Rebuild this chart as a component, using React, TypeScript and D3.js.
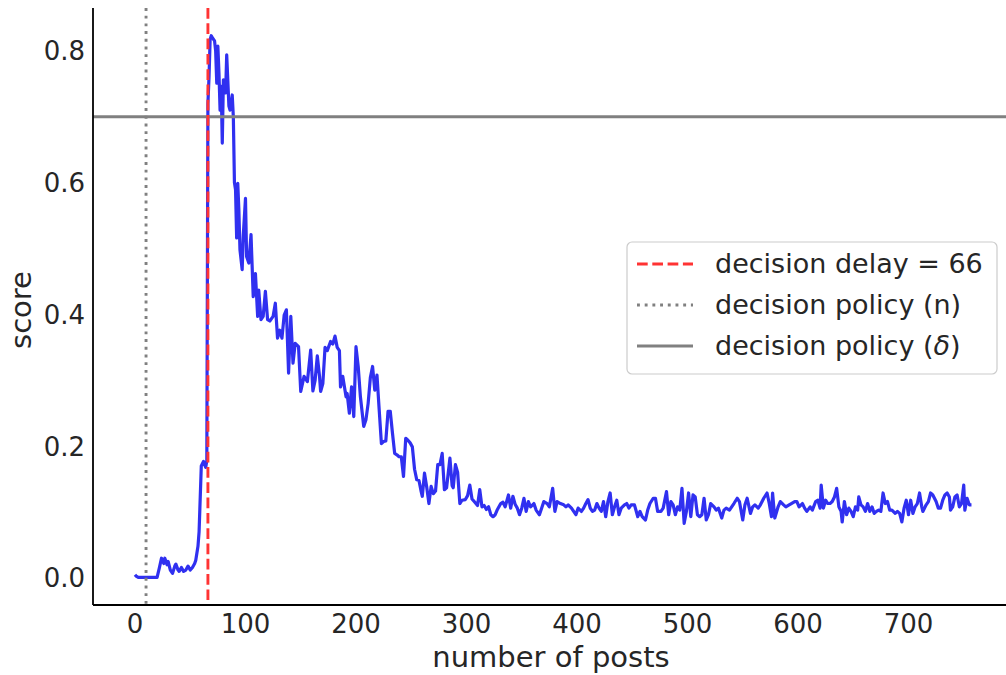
import React, { useEffect } from "react";
import * as d3 from "d3";

// score per number of posts
const posts = [
  0, 1, 3, 20, 22, 24, 26, 27, 29, 30, 32, 34, 36, 37, 39, 40, 42, 44, 46, 48, 50, 52, 54, 55, 57, 58, 60, 62, 63, 64, 65,
  66, 67, 68, 69, 70, 72, 73, 74, 75, 76, 77, 78, 79, 80, 82, 83, 85, 86, 88, 89, 90, 91, 92, 93, 94, 95, 97, 98, 100,
  101, 103, 105, 107, 109, 111, 112, 114, 116, 118, 120, 122, 125, 127, 129, 131, 133, 135, 137, 139, 141, 143, 145, 148,
  150, 153, 156, 159, 161, 163, 165, 167, 168, 170, 172, 174, 177, 179, 181, 183, 185, 186, 188, 191, 192, 194, 196, 198,
  200, 202, 204, 207, 209, 211, 213, 215, 217, 219, 221, 223, 225, 227, 229, 231, 233, 235, 237, 239, 241, 243, 245, 247,
  249, 251, 253, 255, 257, 259, 260, 262, 264, 266, 268, 270, 272, 274, 276, 278, 280, 282, 285, 287, 288, 290, 292, 294,
  296, 299, 301, 303, 305, 307, 310, 312, 314, 316, 318, 320, 322, 324, 326, 328, 331, 333, 335, 338, 340, 342, 344, 346,
  348, 350, 352, 354, 356, 358, 361, 363, 366, 368, 370, 373, 375, 378, 380, 382, 385, 388, 390, 392, 395, 397, 399, 401,
  404, 406, 408, 410, 412, 414, 416, 418, 420, 422, 424, 426, 428, 430, 432, 434, 436, 438, 440, 443, 445, 447, 449, 452,
  455, 457, 459, 462, 464, 466, 469, 471, 473, 476, 478, 481, 483, 485, 487, 489, 491, 493, 495, 497, 499, 501, 503, 505,
  507, 509, 511, 513, 515, 517, 519, 521, 524, 526, 528, 531, 533, 535, 538, 540, 542, 545, 547, 550, 552, 554, 557, 559,
  561, 564, 566, 569, 572, 574, 576, 577, 579, 582, 584, 587, 589, 592, 594, 597, 599, 601, 604, 606, 608, 611, 613, 616,
  618, 620, 621, 623, 625, 627, 629, 631, 633, 635, 637, 639, 640, 642, 644, 646, 648, 650, 652, 654, 655, 657, 659, 661,
  663, 665, 667, 669, 671, 673, 675, 677, 679, 681, 683, 685, 688, 690, 692, 694, 696, 698, 700, 702, 704, 706, 708, 710,
  712, 713, 716, 718, 720, 722, 725, 727, 729, 731, 733, 735, 737, 738, 740, 742, 744, 746, 748, 750, 751, 753, 755, 757,
];
const scores = [
  0.005, 0.003, 0.001, 0.001, 0.015, 0.03, 0.022, 0.03, 0.02, 0.025, 0.012, 0.007, 0.018, 0.021, 0.012, 0.01, 0.016, 0.01,
  0.012, 0.018, 0.012, 0.016, 0.022, 0.027, 0.048, 0.07, 0.17, 0.177, 0.172, 0.168, 0.178,
  0.72, 0.76, 0.817, 0.823, 0.82, 0.815, 0.8, 0.751, 0.807, 0.766, 0.71, 0.746, 0.66, 0.756, 0.736, 0.794, 0.716, 0.71,
  0.733, 0.7, 0.6, 0.589, 0.516, 0.599, 0.559, 0.498, 0.468, 0.52, 0.576,
  0.488, 0.478, 0.521, 0.427, 0.462, 0.397, 0.437, 0.392, 0.397, 0.435, 0.392, 0.39, 0.397, 0.417, 0.364, 0.376, 0.364,
  0.399, 0.407, 0.311, 0.397, 0.326, 0.356, 0.351,
  0.283, 0.306, 0.298, 0.346, 0.284, 0.3, 0.337, 0.306, 0.283, 0.295, 0.35, 0.345, 0.359, 0.355, 0.367, 0.35, 0.345, 0.29,
  0.306, 0.275, 0.28, 0.25, 0.29, 0.245,
  0.351, 0.321, 0.275, 0.23, 0.24, 0.265, 0.304, 0.321, 0.285, 0.308, 0.255, 0.204, 0.207, 0.208, 0.253, 0.253, 0.22,
  0.189, 0.187, 0.184, 0.184, 0.154, 0.212, 0.209,
  0.205, 0.199, 0.165, 0.149, 0.148, 0.131, 0.124, 0.159, 0.138, 0.113, 0.139, 0.128, 0.132, 0.172, 0.172, 0.189, 0.134,
  0.137, 0.182, 0.14, 0.137, 0.172, 0.16, 0.113,
  0.118, 0.119, 0.125, 0.141, 0.12, 0.116, 0.11, 0.134, 0.108, 0.11, 0.104, 0.108, 0.096, 0.093, 0.096, 0.104, 0.113,
  0.115, 0.108, 0.126, 0.106, 0.124, 0.112, 0.106,
  0.096, 0.106, 0.121, 0.101, 0.116, 0.108, 0.113, 0.103, 0.096, 0.106, 0.116, 0.113, 0.108, 0.136, 0.101, 0.116, 0.113,
  0.111, 0.108, 0.111, 0.106, 0.101, 0.096, 0.106,
  0.101, 0.106, 0.113, 0.119, 0.106, 0.101, 0.103, 0.113, 0.106, 0.101, 0.116, 0.093, 0.116, 0.129, 0.096, 0.108, 0.118,
  0.096, 0.106, 0.111, 0.113, 0.106, 0.111, 0.111,
  0.093, 0.101, 0.093, 0.088, 0.103, 0.113, 0.121, 0.121, 0.101, 0.101, 0.106, 0.131, 0.096, 0.116, 0.111, 0.096, 0.108,
  0.103, 0.136, 0.083, 0.101, 0.129, 0.093, 0.126,
  0.123, 0.096, 0.093, 0.096, 0.121, 0.088, 0.096, 0.113, 0.108, 0.103, 0.106, 0.091, 0.103, 0.106, 0.103, 0.108, 0.113,
  0.121, 0.116, 0.088, 0.111, 0.121, 0.098, 0.108,
  0.111, 0.106, 0.111, 0.121, 0.129, 0.113, 0.093, 0.129, 0.091, 0.108, 0.116, 0.111, 0.108, 0.111, 0.113, 0.116, 0.116,
  0.108, 0.113, 0.106, 0.101, 0.108, 0.103, 0.116,
  0.118, 0.106, 0.141, 0.106, 0.118, 0.113, 0.113, 0.116, 0.123, 0.136, 0.108, 0.101, 0.085, 0.116, 0.096, 0.106, 0.101,
  0.093, 0.108, 0.103, 0.123, 0.111, 0.108, 0.101,
  0.113, 0.101, 0.108, 0.098, 0.101, 0.103, 0.101, 0.129, 0.113, 0.116, 0.103, 0.103, 0.098, 0.101, 0.098, 0.085, 0.106,
  0.118, 0.096, 0.118, 0.098, 0.108, 0.113, 0.129,
  0.108, 0.101, 0.111, 0.116, 0.129, 0.126, 0.116, 0.106, 0.106, 0.118, 0.126, 0.129, 0.123, 0.103, 0.108, 0.123, 0.126,
  0.108, 0.113, 0.141, 0.103, 0.121, 0.111, 0.111,
];

const decisionDelay = 66;
const policyN = 10;
const policyDelta = 0.7;

const xTicks = [0, 100, 200, 300, 400, 500, 600, 700];
const yTicks = [0, 0.2, 0.4, 0.6, 0.8];

const legendItems = [
  { label: "decision delay = 66", sym: "", color: "#ff3333", dash: "10.7 4.6" },
  { label: "decision policy (n)", sym: "", color: "#808080", dash: "2.9 4.8" },
  { label: "decision policy (", sym: "\u03b4", color: "#808080", dash: null },
];

const W = 1006;
const H = 675;
const font = "'DejaVu Sans', sans-serif";
const textColor = "#262626";

export default function App() {
  useEffect(() => {
    document.body.style.margin = "0";
  }, []);

  const left = 93;
  const bottom = 605;
  const top = 8;

  const x = d3.scaleLinear().domain([-38, 797]).range([left, left + 835 * 1.105]);
  const y = d3.scaleLinear().domain([-0.041, 0.865]).range([bottom, top]);

  const data = posts.map((p, i) => [p, scores[i]] as [number, number]);
  const line = d3
    .line<[number, number]>()
    .x((d) => x(d[0]))
    .y((d) => y(d[1]));

  const fmt = d3.format(".1f");

  return (
    <svg width={W} height={H} style={{ display: "block", background: "#fff" }}>
      <path d={line(data) || ""} fill="none" stroke="#3030f0" strokeWidth={3.2} strokeLinejoin="round" />

      {/* decision lines */}
      <line x1={left} x2={W} y1={y(policyDelta)} y2={y(policyDelta)} stroke="#808080" strokeWidth={2.9} />
      <line x1={x(policyN)} x2={x(policyN)} y1={top} y2={bottom} stroke="#808080" strokeWidth={2.9} strokeDasharray="2.9 4.8" />
      <line x1={x(decisionDelay)} x2={x(decisionDelay)} y1={top} y2={bottom} stroke="#ff3333" strokeWidth={2.9} strokeDasharray="10.7 4.6" />

      {/* spines */}
      <line x1={left} x2={left} y1={top} y2={bottom} stroke="#000" strokeWidth={1.8} />
      <line x1={left} x2={W} y1={bottom} y2={bottom} stroke="#000" strokeWidth={1.8} />

      {/* ticks */}
      {xTicks.map((t) => (
        <text key={t} x={x(t)} y={633} textAnchor="middle" fontFamily={font} fontSize={26} fill={textColor}>
          {t}
        </text>
      ))}
      {yTicks.map((t) => (
        <text key={t} x={85} y={y(t) + 9.5} textAnchor="end" fontFamily={font} fontSize={26} fill={textColor}>
          {fmt(t)}
        </text>
      ))}

      {/* axis labels */}
      <text x={551} y={667} textAnchor="middle" fontFamily={font} fontSize={29} fill={textColor}>
        number of posts
      </text>
      <text transform="translate(31,310) rotate(-90)" textAnchor="middle" fontFamily={font} fontSize={29} fill={textColor}>
        score
      </text>

      {/* legend */}
      <rect x={627} y={242} width={370} height={132} rx={5} fill="#fff" fillOpacity={0.8} stroke="#cccccc" strokeWidth={1.2} />
      {legendItems.map((it, i) => {
        const cy = 264 + i * 41;
        return (
          <g key={it.label}>
            <line x1={637} x2={693} y1={cy} y2={cy} stroke={it.color} strokeWidth={2.9} strokeDasharray={it.dash || undefined} />
            <text x={715} y={cy + 9} fontFamily={font} fontSize={27} fill={textColor}>
              {it.label}
              {it.sym && (
                <>
                  <tspan fontStyle="italic">{it.sym}</tspan>
                  <tspan>)</tspan>
                </>
              )}
            </text>
          </g>
        );
      })}
    </svg>
  );
}
